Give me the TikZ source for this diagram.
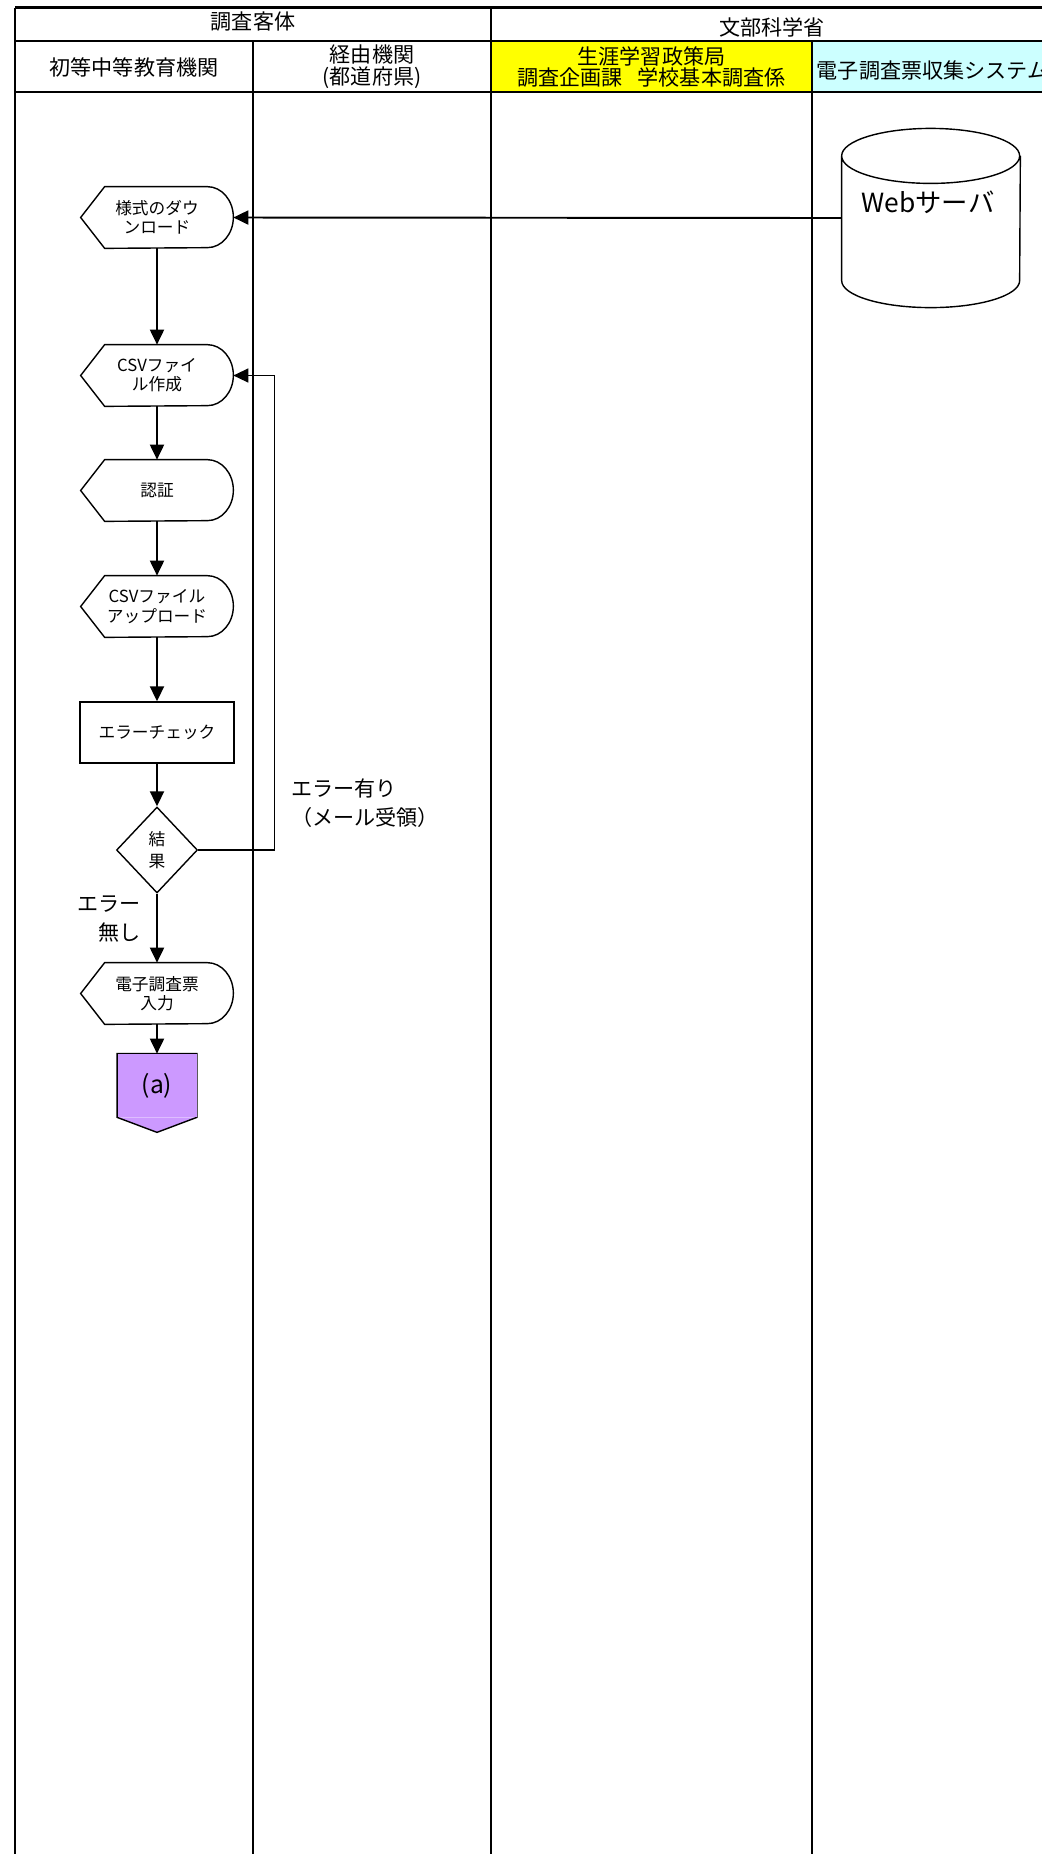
\documentclass[tikz,border=0pt]{standalone}
\usepackage{fontspec}
\setmainfont{Noto Sans CJK JP}
\usetikzlibrary{arrows.meta,shapes.geometric}

\definecolor{bureauyellow}{HTML}{FFFF00}
\definecolor{systemcyan}{HTML}{CCFFFF}
\definecolor{linkpurple}{HTML}{CC99FF}

\newcommand\flowfont{\fontsize{9.5}{11}\selectfont}
\newcommand\headfont{\fontsize{12}{12.5}\selectfont}

\tikzset{
  lanerule/.style={line width=1.5pt},
  lanehead/.style={font=\headfont, align=center, inner sep=0pt},
  flowline/.style={line width=1.1pt},
  backline/.style={line width=0.8pt},
  shapeline/.style={line width=0.8pt},
  dispbox/.style={minimum width=3.04cm, minimum height=1.22cm, inner sep=0pt,
    align=center, font=\flowfont,
    append after command={\pgfextra{\draw[shapeline]
      ([xshift=0.48cm]\tikzlastnode.north west) -- ([xshift=-0.52cm]\tikzlastnode.north east)
      arc[start angle=90, end angle=-90, x radius=0.52cm, y radius=0.61cm]
      -- ([xshift=0.48cm]\tikzlastnode.south west) -- (\tikzlastnode.west) -- cycle;}}},
  procbox/.style={draw, shapeline, minimum width=3.08cm, minimum height=1.22cm,
    inner sep=0pt, font=\flowfont},
  decide/.style={diamond, draw, shapeline, minimum width=1.62cm, minimum height=1.72cm,
    inner sep=0pt, align=center, font=\fontsize{9.5}{12.5}\selectfont},
  offpage/.style={fill=linkpurple, minimum width=1.58cm, minimum height=1.26cm,
    inner sep=0pt, font=\fontsize{14}{16}\selectfont,
    append after command={\pgfextra{
      \fill[linkpurple] (\tikzlastnode.south west) -- ([yshift=-0.3cm]\tikzlastnode.south)
        -- (\tikzlastnode.south east) -- cycle;
      \draw[shapeline] (\tikzlastnode.north west) -- (\tikzlastnode.north east)
        -- (\tikzlastnode.south east) -- ([yshift=-0.3cm]\tikzlastnode.south)
        -- (\tikzlastnode.south west) -- cycle;}}},
  server/.style={minimum width=3.56cm, minimum height=3.57cm, inner sep=0pt,
    append after command={\pgfextra{\draw[shapeline]
      ([yshift=-0.55cm]\tikzlastnode.north west)
      arc[start angle=180, end angle=0, x radius=1.78cm, y radius=0.55cm]
      arc[start angle=0, end angle=-180, x radius=1.78cm, y radius=0.55cm]
      -- ([yshift=0.54cm]\tikzlastnode.south west)
      arc[start angle=180, end angle=360, x radius=1.78cm, y radius=0.54cm]
      -- ([yshift=-0.55cm]\tikzlastnode.north east);}}},
  branchnote/.style={font=\fontsize{12}{16.5}\selectfont, inner sep=0pt}
}

\begin{document}
\begin{tikzpicture}[>={Triangle[length=0.3cm,width=0.28cm]}]
  \useasboundingbox (0,0) rectangle (20.84,-37.08);
  \clip (0,0) rectangle (20.84,-37.08);

  % lane headers
  \fill[bureauyellow] (9.82,-0.82) rectangle (16.24,-1.84);
  \fill[systemcyan] (16.24,-0.82) rectangle (21.2,-1.84);
  \draw[lanerule] (0.30,-0.15) -- (21.2,-0.15);
  \draw[lanerule] (0.30,-0.82) -- (21.2,-0.82);
  \draw[lanerule] (0.30,-1.84) -- (21.2,-1.84);
  \draw[lanerule] (0.30,-0.15) -- (0.30,-37.5);
  \draw[lanerule] (5.06,-0.82) -- (5.06,-37.5);
  \draw[lanerule] (9.82,-0.15) -- (9.82,-37.5);
  \draw[lanerule] (16.24,-0.82) -- (16.24,-37.5);

  \node[lanehead] (hsubj) at (5.06,-0.43) {調査客体};
  \node[lanehead] (hmext) at (15.44,-0.55) {文部科学省};
  \node[lanehead] (hschool) at (2.68,-1.34) {初等中等教育機関};
  \node[lanehead] (hpref) at (7.44,-1.34) {経由機関\\(都道府県)};
  \node[lanehead] (hbureau) at (13.03,-1.34) {生涯学習政策局\\調査企画課\hspace{0.7em}学校基本調査係};
  \node[lanehead] (hsys) at (18.65,-1.42) {電子調査票収集システム};

  % flow
  \node[server] (srv) at (18.62,-4.36) {};
  \node[font=\fontsize{15}{18}\selectfont, inner sep=0pt] (srvname) at (18.56,-4.04) {Webサーバ};

  \node[dispbox] (dl) at (3.14,-4.35) {様式のダウ\\ンロード};
  \node[dispbox] (csv) at (3.14,-7.51) {CSVファイ\\ル作成};
  \node[dispbox] (auth) at (3.14,-9.81) {認証};
  \node[dispbox] (upl) at (3.14,-12.13) {CSVファイル\\アップロード};
  \node[procbox] (chk) at (3.14,-14.65) {エラーチェック};
  \node[decide] (res) at (3.14,-17.00) {結\\果};
  \node[dispbox] (inp) at (3.14,-19.87) {電子調査票\\入力};
  \node[offpage] (pa) at (3.14,-21.71) {(a)};

  \draw[->,flowline] (srv.west) -- (dl.east);
  \draw[->,flowline] (dl) -- (csv);
  \draw[->,flowline] (csv) -- (auth);
  \draw[->,flowline] (auth) -- (upl);
  \draw[->,flowline] (upl) -- (chk);
  \draw[->,flowline] (chk) -- (res);
  \draw[->,flowline] (res) -- (inp)
    node[pos=0.37, left=0.3cm, branchnote, align=right] (okmark) {エラー\\無し};
  \draw[->,flowline] (inp) -- (pa);
  \draw[->,backline] (res.east) -- ++(1.52,0) |- (csv.east);
  \node[branchnote, anchor=west, align=left] (ngmark) at (5.82,-16.07) {エラー有り\\（メール受領）};
\end{tikzpicture}
\end{document}
